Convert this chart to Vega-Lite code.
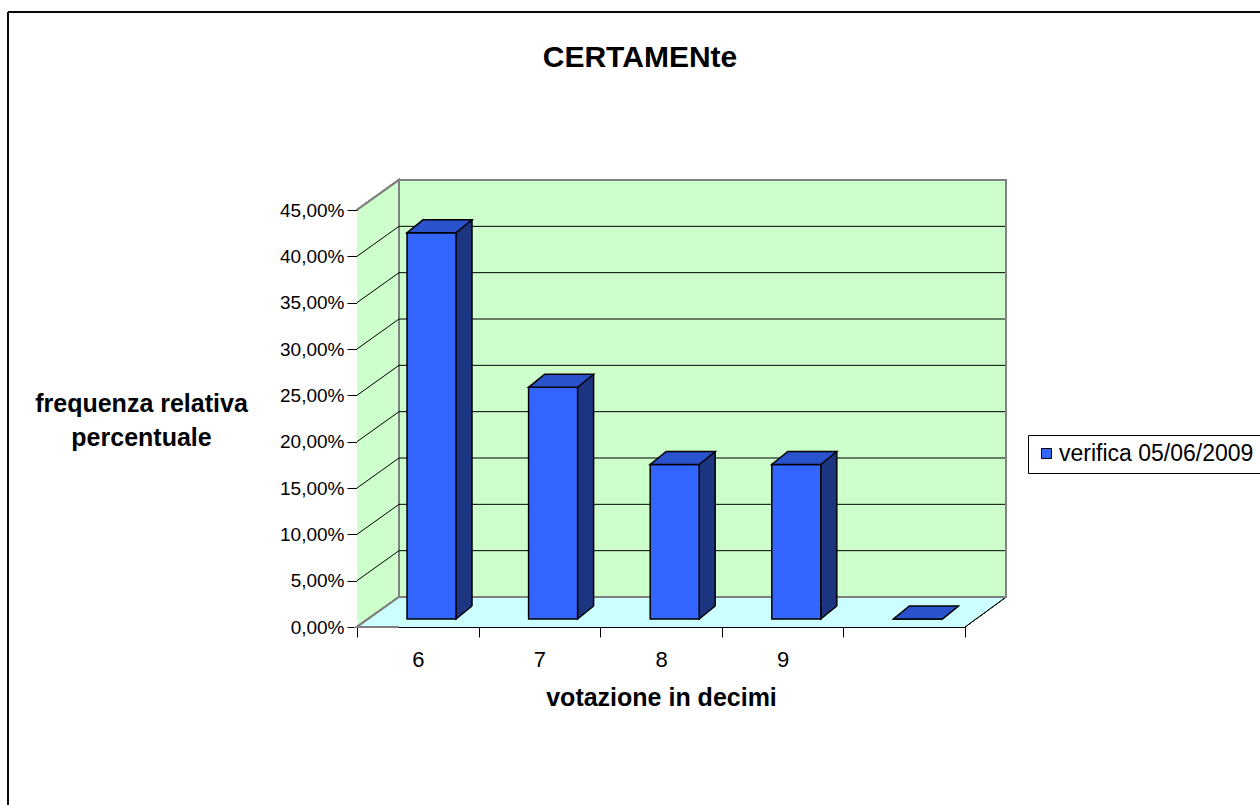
{
  "$schema": "https://vega.github.io/schema/vega-lite/v6.json",
  "width": 608,
  "height": 417,
  "autosize": {"type": "none"},
  "padding": {"left": 357, "top": 210, "right": 295, "bottom": 178},
  "background": "white",
  "config": {
    "locale": {"number": {"decimal": ",", "thousands": ".", "grouping": [3], "currency": ["€", ""]}},
    "font": "Liberation Sans",
    "view": {"stroke": null},
    "axis": {"labelFont": "Liberation Sans", "titleFont": "Liberation Sans", "labelColor": "black", "titleColor": "black", "domainColor": "black", "tickColor": "black", "grid": false, "zindex": 1}
  },
  "title": {"text": "CERTAMENte", "fontSize": 30, "fontWeight": "bold", "font": "Liberation Sans", "color": "black", "frame": "group", "anchor": "middle", "offset": 0, "dx": -21, "dy": 61, "baseline": "top"},
  "datasets": {
    "voti": [
      {"voto": "6", "freq": 0.4167, "serie": "verifica 05/06/2009"},
      {"voto": "7", "freq": 0.25, "serie": "verifica 05/06/2009"},
      {"voto": "8", "freq": 0.1667, "serie": "verifica 05/06/2009"},
      {"voto": "9", "freq": 0.1667, "serie": "verifica 05/06/2009"},
      {"voto": "", "freq": 0, "serie": "verifica 05/06/2009"}
    ],
    "griglia": [
      {"t": 0.05}, {"t": 0.1}, {"t": 0.15}, {"t": 0.2}, {"t": 0.25}, {"t": 0.3}, {"t": 0.35}, {"t": 0.4}
    ]
  },
  "data": {"name": "voti"},
  "layer": [
    {
      "mark": {"type": "rule", "color": "black", "strokeWidth": 1, "xOffset": -409.8, "yOffset": -198, "y2Offset": 200},
      "encoding": {
        "x": {"datum": "6", "type": "nominal",
          "scale": {"domain": ["6", "7", "8", "9", ""], "paddingInner": 0, "paddingOuter": 0},
          "axis": {"title": "votazione in decimi", "titleFontSize": 25, "titleFontWeight": "bold", "titlePadding": 15, "labelFontSize": 22, "labelAngle": 0, "labelPadding": 12, "tickSize": 10, "tickBand": "extent", "domainWidth": 1, "tickWidth": 1}},
        "y": {"datum": 0.45, "type": "quantitative",
          "scale": {"domain": [0, 0.45], "nice": false, "zero": true},
          "axis": {"values": [0, 0.05, 0.1, 0.15, 0.2, 0.25, 0.3, 0.35, 0.4, 0.45], "format": ".2%", "labelFontSize": 19, "labelPadding": 3, "tickSize": 10, "domainWidth": 1, "tickWidth": 1,
            "title": ["frequenza relativa", "percentuale"], "titleFontSize": 25, "titleFontWeight": "bold", "titleAngle": 0, "titleAlign": "center", "titleBaseline": "middle", "titleX": -216, "titleY": 193, "titleLineHeight": 34}},
        "y2": {"datum": 0}
      }
    },
    {
      "mark": {"type": "rule", "color": "black", "strokeWidth": 1, "xOffset": -409.8, "x2Offset": 1000, "yOffset": -198},
      "encoding": {"x": {"datum": "6", "type": "nominal"}, "x2": {"datum": "6"}, "y": {"datum": 0.45, "type": "quantitative"}}
    },
    {
      "mark": {"type": "rect", "fill": "#ccffcc", "xOffset": -566},
      "encoding": {"y": {"datum": 0.45, "type": "quantitative"}, "y2": {"datum": 0}}
    },
    {
      "mark": {"type": "point", "shape": "M0,0 L42,-30 L42,0", "size": 4, "filled": true, "fill": "#ccffcc", "stroke": "#808080", "strokeWidth": 2, "opacity": 1, "xOffset": -60.8},
      "encoding": {"x": {"datum": "6", "type": "nominal"}, "y": {"datum": 0.45, "type": "quantitative"}}
    },
    {
      "mark": {"type": "bar", "width": 566, "fill": "#ccffff", "xOffset": 264.2, "yOffset": -30},
      "encoding": {"x": {"datum": "6", "type": "nominal"}, "y": {"datum": 0, "type": "quantitative"}, "y2": {"datum": 0}}
    },
    {
      "mark": {"type": "point", "shape": "M42,0 L0,0 L42,-30", "size": 4, "filled": true, "fill": "#ccffff", "stroke": "#808080", "strokeWidth": 2, "opacity": 1, "xOffset": -60.8},
      "encoding": {"x": {"datum": "6", "type": "nominal"}, "y": {"datum": 0, "type": "quantitative"}}
    },
    {
      "mark": {"type": "point", "shape": "M0,0 L41,-30 L0,-30", "size": 4, "filled": true, "fill": "#ccffff", "stroke": "black", "strokeWidth": 1, "opacity": 1, "xOffset": 547.2},
      "encoding": {"x": {"datum": "6", "type": "nominal"}, "y": {"datum": 0, "type": "quantitative"}}
    },
    {
      "mark": {"type": "bar", "width": 607, "fill": "#ccffcc", "stroke": "#808080", "strokeWidth": 2, "xOffset": 284.7, "yOffset": -30, "y2Offset": -30},
      "encoding": {"x": {"datum": "6", "type": "nominal"}, "y": {"datum": 0.45, "type": "quantitative"}, "y2": {"datum": 0}}
    },
    {
      "data": {"name": "griglia"},
      "mark": {"type": "point", "shape": "M0,0 L42,-30 L648,-30", "size": 4, "filled": false, "stroke": "black", "strokeWidth": 1, "opacity": 1, "xOffset": -60.8},
      "encoding": {"x": {"datum": "6", "type": "nominal"}, "y": {"field": "t", "type": "quantitative"}}
    },
    {
      "mark": {"type": "bar", "width": 16, "fill": "#1c3580", "xOffset": 46.2, "yOffset": -21, "y2Offset": -21},
      "encoding": {"x": {"field": "voto", "type": "nominal"}, "y": {"field": "freq", "type": "quantitative"}}
    },
    {
      "mark": {"type": "rule", "color": "black", "strokeWidth": 1.5, "xOffset": 54.2, "yOffset": -21, "y2Offset": -21},
      "encoding": {"x": {"field": "voto", "type": "nominal"}, "y": {"field": "freq", "type": "quantitative"}, "y2": {"datum": 0}}
    },
    {
      "mark": {"type": "point", "shape": "M16,-13 L0,0 L0,-13", "size": 4, "filled": true, "fill": "#1c3580", "stroke": "black", "strokeWidth": 1.5, "opacity": 1, "xOffset": 38.2, "yOffset": -8},
      "encoding": {"x": {"field": "voto", "type": "nominal"}, "y": {"datum": 0, "type": "quantitative"}}
    },
    {
      "mark": {"type": "bar", "width": 49, "xOffset": 13.7, "yOffset": -8, "y2Offset": -8, "stroke": "black", "strokeWidth": 1.5, "opacity": 1},
      "encoding": {
        "x": {"field": "voto", "type": "nominal"},
        "y": {"field": "freq", "type": "quantitative"},
        "color": {"field": "serie", "type": "nominal", "scale": {"range": ["#3366ff"]},
          "legend": {"orient": "none", "legendX": 671, "legendY": 225, "title": null, "symbolType": "square", "symbolSize": 100, "symbolStrokeColor": "black", "symbolStrokeWidth": 1, "symbolOpacity": 1, "labelFontSize": 23, "labelFont": "Liberation Sans", "labelColor": "black", "labelOffset": 1, "labelLimit": 400, "strokeColor": "black", "fillColor": "white", "padding": 7}}
      }
    },
    {
      "mark": {"type": "point", "shape": "M0,0 L49,0 L65,-13 L16,-13 Z", "size": 4, "filled": true, "fill": "#2952cc", "stroke": "black", "strokeWidth": 1.5, "opacity": 1, "xOffset": -10.8, "yOffset": -8},
      "encoding": {"x": {"field": "voto", "type": "nominal"}, "y": {"field": "freq", "type": "quantitative"}}
    }
  ]
}
